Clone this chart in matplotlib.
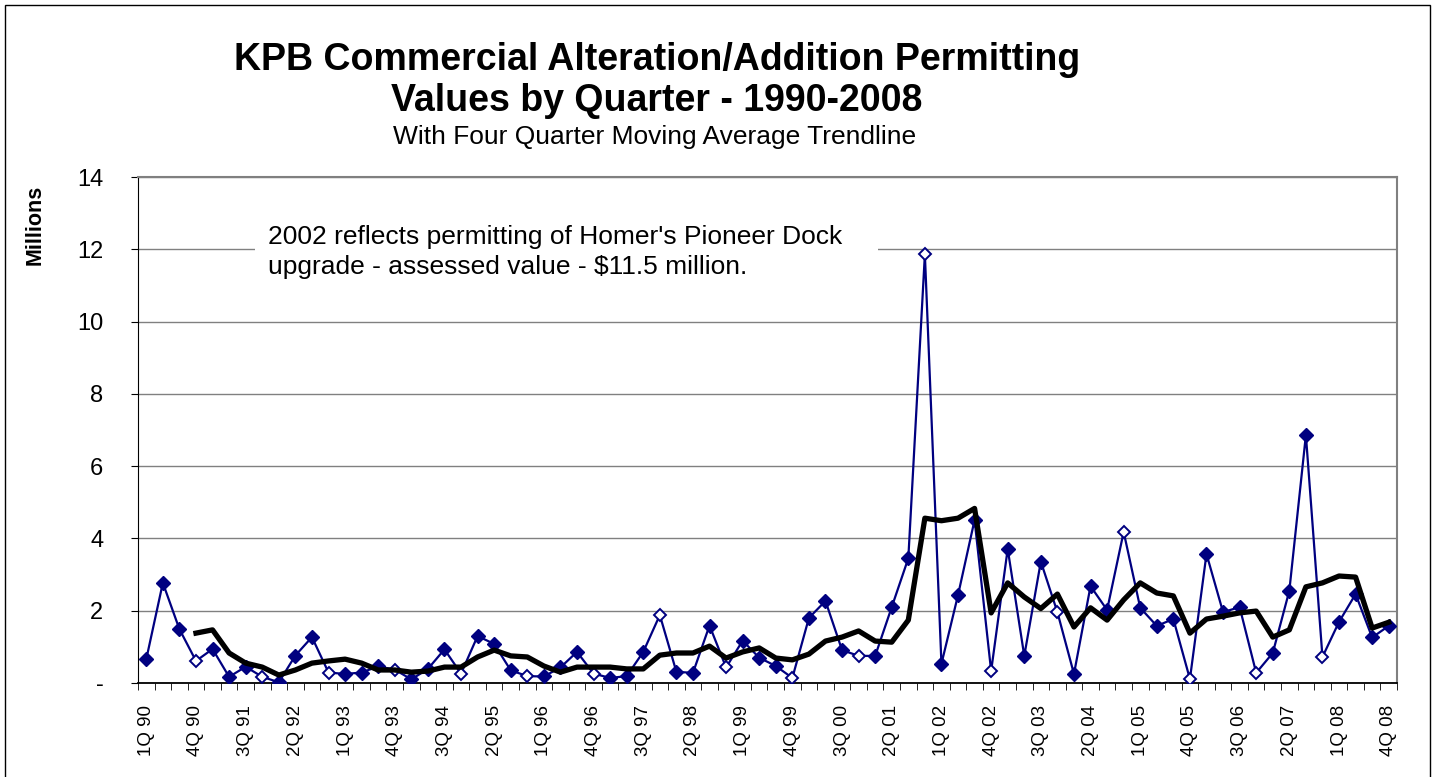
import matplotlib.pyplot as plt
from matplotlib.patches import Rectangle

plt.rcParams['font.family'] = ['Liberation Sans', 'DejaVu Sans']

# quarterly values, millions, 1Q 90 .. 4Q 08
values = [0.66, 2.77, 1.49, 0.61, 0.94, 0.17, 0.45, 0.17,
          0.02, 0.76, 1.27, 0.29, 0.25, 0.29, 0.46, 0.37,
          0.10, 0.39, 0.93, 0.26, 1.30, 1.08, 0.35, 0.19,
          0.18, 0.43, 0.86, 0.26, 0.14, 0.19, 0.86, 1.88,
          0.31, 0.28, 1.59, 0.43, 1.17, 0.70, 0.47, 0.14,
          1.80, 2.27, 0.91, 0.75, 0.75, 2.10, 3.45, 11.86,
          0.53, 2.43, 4.51, 0.33, 3.71, 0.75, 3.36, 1.96,
          0.25, 2.68, 2.02, 4.18, 2.08, 1.58, 1.77, 0.11,
          3.57, 1.96, 2.10, 0.28, 0.83, 2.55, 6.86, 0.72,
          1.69, 2.46, 1.26, 1.58]

# four quarter moving average, starts at 4Q 90
moving_avg = [1.38, 1.47, 0.83, 0.55, 0.44,
              0.22, 0.36, 0.55, 0.61, 0.66, 0.55, 0.36, 0.36,
              0.30, 0.33, 0.44, 0.44, 0.72, 0.91, 0.75, 0.72,
              0.47, 0.30, 0.44, 0.44, 0.44, 0.39, 0.39, 0.77,
              0.83, 0.83, 1.02, 0.69, 0.86, 0.97, 0.69, 0.64,
              0.80, 1.16, 1.27, 1.44, 1.16, 1.13, 1.74, 4.56,
              4.49, 4.56, 4.83, 1.94, 2.77, 2.38, 2.06, 2.46,
              1.55, 2.08, 1.74, 2.30, 2.77, 2.49, 2.41, 1.38,
              1.77, 1.85, 1.94, 1.99, 1.27, 1.47, 2.66, 2.77,
              2.96, 2.93, 1.52, 1.68]
ma_start = 3

# quarters drawn with hollow markers
open_points = [3, 7, 11, 15, 19, 23, 27, 31, 35, 39, 43, 47,
               51, 55, 59, 63, 67, 71]

tick_labels = ['1Q 90', '4Q 90', '3Q 91', '2Q 92', '1Q 93', '4Q 93',
               '3Q 94', '2Q 95', '1Q 96', '4Q 96', '3Q 97', '2Q 98',
               '1Q 99', '4Q 99', '3Q 00', '2Q 01', '1Q 02', '4Q 02',
               '3Q 03', '2Q 04', '1Q 05', '4Q 05', '3Q 06', '2Q 07',
               '1Q 08', '4Q 08']

navy = '#000080'
x = list(range(len(values)))

fig = plt.figure(figsize=(14.34, 7.77), dpi=100)
ax = fig.add_axes([138 / 1434, 1 - 683 / 777, (1397 - 138) / 1434, (683 - 177) / 777])

# outer chart frame
fig.patches.append(Rectangle((5 / 1434, -0.05), (1430 - 5) / 1434, 1.05 - 5 / 777,
                             transform=fig.transFigure, fill=False,
                             edgecolor='black', linewidth=1.0))

ax.plot(x, values, color=navy, linewidth=1.6, zorder=3)
filled_x = [i for i in x if i not in open_points]
ax.plot(filled_x, [values[i] for i in filled_x], linestyle='none', marker='D',
        markersize=6.8, color=navy, zorder=4)
ax.plot(open_points, [values[i] for i in open_points], linestyle='none', marker='D',
        markersize=6.6, markerfacecolor='white', markeredgecolor=navy,
        markeredgewidth=1.4, zorder=4)

ma_x = list(range(ma_start, ma_start + len(moving_avg)))
ax.plot(ma_x, moving_avg, color='black', linewidth=3.8, zorder=5)

ax.set_xlim(-0.5, len(values) - 0.5)
ax.set_ylim(0, 14)
ax.set_yticks(range(0, 15, 2))
ax.set_yticklabels(['-'] + [str(v) for v in range(2, 15, 2)], fontsize=17)
ax.yaxis.grid(True, color='#808080', linewidth=1.0)
ax.set_axisbelow(True)

ax.set_xticks(range(0, len(values), 3))
ax.set_xticklabels(tick_labels, rotation=90, fontsize=13.5)
ax.set_xticks([i - 0.5 for i in range(len(values) + 1)], minor=True)
ax.tick_params(axis='x', which='major', length=0, pad=16)
ax.tick_params(axis='x', which='minor', length=5, color='black')
ax.tick_params(axis='y', length=5, pad=20, color='black')

for side in ['top', 'right']:
    ax.spines[side].set_color('#808080')
    ax.spines[side].set_linewidth(1.5)
ax.spines['left'].set_color('black')
ax.spines['bottom'].set_color('black')
ax.spines['bottom'].set_linewidth(1.3)

fig.text(35 / 1434, 1 - 225 / 777, 'Millions', rotation=90, fontsize=15.5,
         fontweight='bold', ha='center', va='center')

fig.text(657 / 1434, 1 - 60 / 777, 'KPB Commercial Alteration/Addition Permitting',
         fontsize=27, fontweight='bold', ha='center', va='center')
fig.text(657 / 1434, 1 - 101 / 777, 'Values by Quarter - 1990-2008',
         fontsize=27, fontweight='bold', ha='center', va='center')
fig.text(655 / 1434, 1 - 137 / 777, 'With Four Quarter Moving Average Trendline',
         fontsize=19, ha='center', va='center')

# white box behind the note, hides the gridline
ax.add_patch(Rectangle((255 / 1434, 1 - 286 / 777), (878 - 255) / 1434, 66 / 777,
                       transform=fig.transFigure, facecolor='white',
                       edgecolor='none', zorder=1))
ax.text(268 / 1434, 1 - 252 / 777,
        "2002 reflects permitting of Homer's Pioneer Dock\nupgrade - assessed value - $11.5 million.",
        transform=fig.transFigure, fontsize=19, ha='left', va='center',
        linespacing=1.35, zorder=6)

plt.savefig('out.png', dpi=100)
